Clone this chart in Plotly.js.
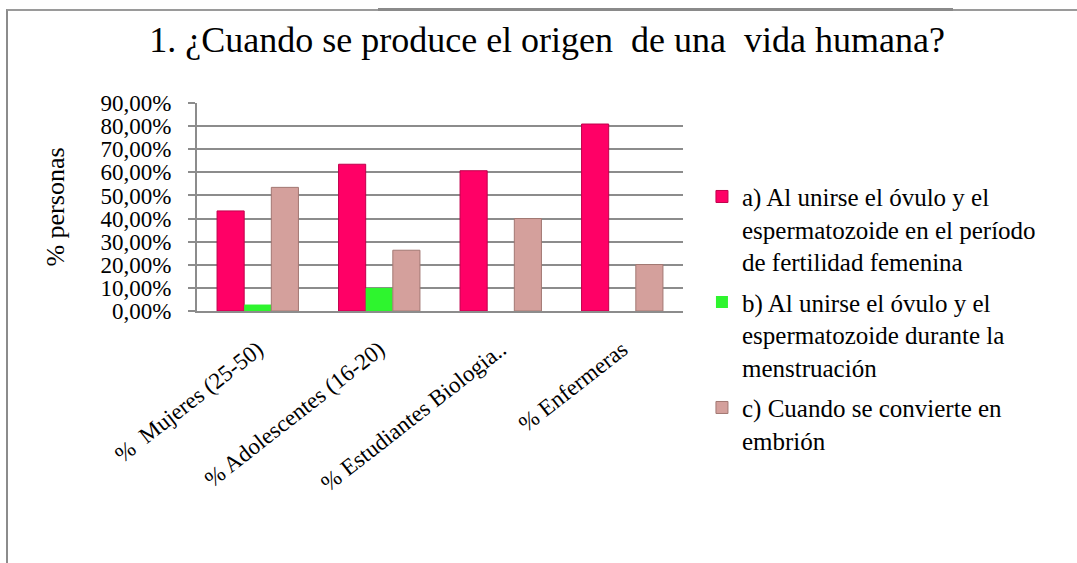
<!DOCTYPE html>
<html>
<head>
<meta charset="utf-8">
<script src="https://cdn.plot.ly/plotly-3.0.1.min.js"></script>
<style>
  html, body { margin: 0; padding: 0; background: #ffffff; }
  #wrap { position: relative; width: 1077px; height: 563px; overflow: hidden; }
  #frame { position: absolute; left: 6px; top: 9px; width: 1100px; height: 600px;
           border-left: 2px solid #8c8c8c; border-top: 2px solid #9a9a9a; }
  #frame2 { position: absolute; left: 378px; top: 8px; width: 575px; height: 0;
            border-top: 3px solid #8a8a8a; }
  #chart { position: absolute; left: 0; top: 0; width: 1077px; height: 563px; }
</style>
</head>
<body>
<div id="wrap">
  <div id="frame"></div>
  <div id="frame2"></div>
  <div id="chart"></div>
</div>
<script>
const categories = ["% Mujeres (25-50)", "% Adolescentes (16-20)", "% Estudiantes Biologia..", "% Enfermeras"];
const seriesNames = [
  "a) Al unirse el óvulo y el<br>espermatozoide en el período<br>de fertilidad femenina",
  "b) Al unirse el óvulo y el<br>espermatozoide durante la<br>menstruación",
  "c) Cuando se convierte en<br>embrión"
];
const valuesA = [43.3, 63.5, 60.7, 80.9];
const valuesB = [2.8, 10.0, 0, 0];
const valuesC = [53.5, 26.3, 40.0, 20.1];
const yTickVals = [0, 10, 20, 30, 40, 50, 60, 70, 80, 90];
const yTickText = ["0,00%", "10,00%", "20,00%", "30,00%", "40,00%", "50,00%", "60,00%", "70,00%", "80,00%", "90,00%"];
const xTickText = ["%  Mujeres (25-50)", "% Adolescentes (16-20)", "% Estudiantes Biologia..", "% Enfermeras"];

const serif = "'Liberation Serif', 'Times New Roman', serif";
const colors = ["#ff0066", "#2ef52e", "#d4a09c"];
const lineColors = ["#c0004c", "#1fbf1f", "#a27872"];
const lineWidths = [1, 0, 1];
const vals = [valuesA, valuesB, valuesC];

const traces = vals.map((v, i) => ({
  type: "bar",
  x: categories,
  y: v,
  name: seriesNames[i],
  legendgroup: "g" + i,
  marker: { color: colors[i], line: { color: lineColors[i], width: lineWidths[i] } },
  hoverinfo: "x+y"
}));

const layout = {
  width: 1077, height: 563,
  margin: { l: 197, r: 394, t: 103, b: 252 },
  paper_bgcolor: "rgba(0,0,0,0)",
  plot_bgcolor: "#ffffff",
  font: { family: serif, color: "#000000", size: 20 },
  title: {
    text: "1. ¿Cuando se produce el origen  de una  vida humana?",
    font: { family: serif, size: 36, color: "#000" },
    x: 0.508, xref: "container", xanchor: "center",
    y: 0.952, yref: "container", yanchor: "top"
  },
  barmode: "group",
  bargap: 0.33,
  bargroupgap: 0,
  xaxis: {
    tickmode: "array", tickvals: categories, ticktext: xTickText,
    tickangle: -38,
    tickfont: { family: serif, size: 23, color: "#000" },
    ticklabelstandoff: 14,
    showgrid: false, showline: true, linecolor: "#8c8c8c", linewidth: 2,
    ticks: "", automargin: false
  },
  yaxis: {
    range: [0, 90],
    tickmode: "array", tickvals: yTickVals, ticktext: yTickText,
    tickfont: { family: serif, size: 23, color: "#000" },
    showgrid: true, gridcolor: "#8c8c8c", gridwidth: 2,
    showline: true, linecolor: "#8c8c8c", linewidth: 2,
    ticks: "outside", ticklen: 7, tickcolor: "#8c8c8c", tickwidth: 2,
    ticklabelstandoff: 12,
    zeroline: false, automargin: false,
    title: { text: "% personas", font: { family: serif, size: 26, color: "#000" }, standoff: 28 }
  },
  showlegend: true,
  legend: {
    x: 1.039, xanchor: "left", y: 0.66, yanchor: "top",
    font: { family: serif, size: 25, color: "#000" },
    valign: "top",
    itemwidth: 30,
    maxheight: 600,
    tracegroupgap: 5,
    bgcolor: "rgba(0,0,0,0)"
  }
};

Plotly.newPlot("chart", traces, layout, { displayModeBar: false, staticPlot: true });
</script>
</body>
</html>
